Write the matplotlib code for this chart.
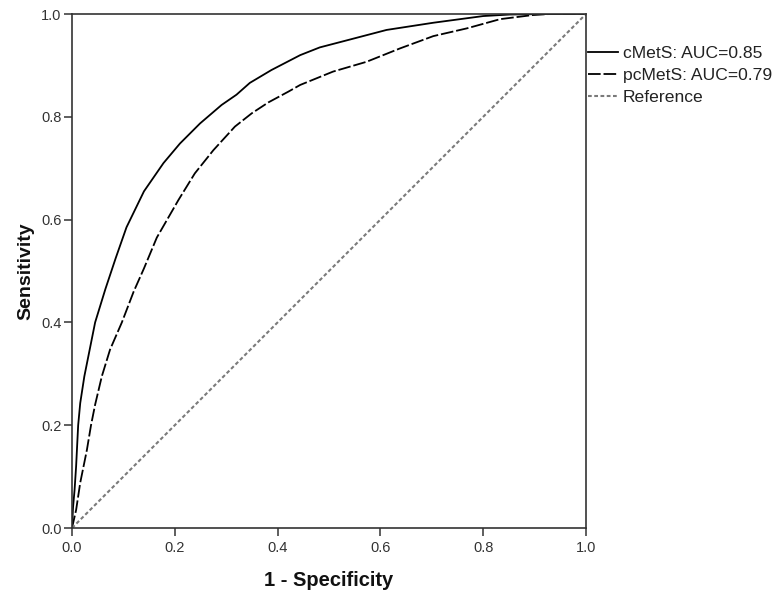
import matplotlib
matplotlib.use("Agg")
import matplotlib.pyplot as plt

plt.rcParams['font.family'] = ['Liberation Sans', 'DejaVu Sans']

# cMetS ROC curve (1 - specificity, sensitivity)
c_fpr = [0.0, 0.002, 0.005, 0.008, 0.012, 0.016, 0.024, 0.045, 0.065, 0.085,
         0.106, 0.140, 0.178, 0.210, 0.249, 0.291, 0.320, 0.346, 0.388, 0.444,
         0.482, 0.528, 0.612, 0.703, 0.800, 0.852, 0.93, 1.0]
c_tpr = [0.0, 0.04, 0.074, 0.12, 0.20, 0.243, 0.295, 0.40, 0.465, 0.525,
         0.585, 0.655, 0.710, 0.748, 0.787, 0.823, 0.843, 0.866, 0.891, 0.920,
         0.935, 0.947, 0.969, 0.983, 0.996, 0.999, 1.0, 1.0]

# pcMetS ROC curve
p_fpr = [0.0, 0.008, 0.016, 0.029, 0.037, 0.045, 0.058, 0.074, 0.097, 0.120,
         0.140, 0.165, 0.207, 0.239, 0.275, 0.317, 0.350, 0.382, 0.421, 0.444,
         0.508, 0.573, 0.638, 0.703, 0.768, 0.833, 0.897, 0.93, 1.0]
p_tpr = [0.0, 0.035, 0.088, 0.152, 0.20, 0.24, 0.295, 0.347, 0.40, 0.46,
         0.505, 0.565, 0.638, 0.690, 0.735, 0.781, 0.807, 0.828, 0.849, 0.862,
         0.888, 0.907, 0.933, 0.957, 0.972, 0.990, 0.998, 1.0, 1.0]

ref_x = [0.0, 1.0]
ref_y = [0.0, 1.0]

labels = ["cMetS: AUC=0.85", "pcMetS: AUC=0.79", "Reference"]
ticks = [0.0, 0.2, 0.4, 0.6, 0.8, 1.0]
tick_labels = ["0.0", "0.2", "0.4", "0.6", "0.8", "1.0"]

fig = plt.figure(figsize=(7.75, 5.93), dpi=100)
ax = fig.add_axes([72/775, 1 - 528/593, (586-72)/775, (528-14)/593])

ax.plot(c_fpr, c_tpr, color='black', lw=1.3, label=labels[0])
ax.plot(p_fpr, p_tpr, color='black', lw=1.3, linestyle=(0, (7, 1.6)), label=labels[1])
ax.plot(ref_x, ref_y, color='#7a7a7a', lw=1.5, linestyle=(0, (1.8, 1.2)), label=labels[2])

ax.set_xlim(0, 1)
ax.set_ylim(0, 1)
ax.set_xticks(ticks)
ax.set_xticklabels(tick_labels)
ax.set_yticks(ticks)
ax.set_yticklabels(tick_labels)
ax.tick_params(direction='out', length=6, width=1.1, labelsize=10.5, colors='#333333', pad=1.5)
ax.tick_params(axis='x', pad=3)
for s in ax.spines.values():
    s.set_linewidth(1.2)
    s.set_color('#333333')

ax.set_xlabel("1 - Specificity", fontsize=14.5, fontweight='bold', labelpad=12, color='#111111')
ax.set_ylabel("Sensitivity", fontsize=14, fontweight='bold', labelpad=5, color='#111111')

leg = ax.legend(loc='upper left', bbox_to_anchor=(1.003, 0.938), frameon=False,
                fontsize=12.6, handlelength=1.75, handletextpad=0.28,
                borderaxespad=0, borderpad=0, labelspacing=0.38)
for t in leg.get_texts():
    t.set_color('#222222')

fig.savefig("out.png", dpi=100)
